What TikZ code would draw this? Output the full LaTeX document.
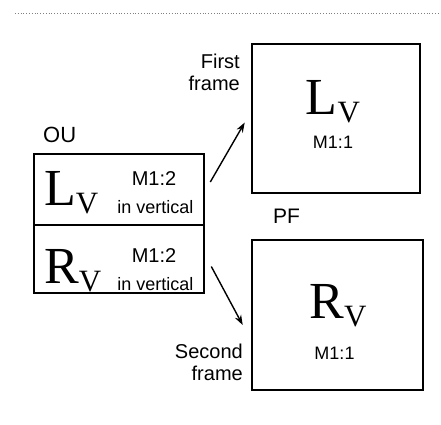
\documentclass[tikz,border=0pt]{standalone}
\usepackage{fontspec}
\setmainfont{Liberation Sans}
\newfontfamily\timesfont{Liberation Serif}
\usepackage{tikz}
\usetikzlibrary{arrows.meta, positioning, calc}
\tikzstyle{frame} = [rectangle, draw=black, line width=2.6pt, inner sep=0pt]
\tikzstyle{label} = [inner sep=0pt, anchor=base, font=\fontsize{20}{22}\selectfont]
\tikzstyle{small} = [inner sep=0pt, anchor=base, font=\fontsize{18}{20}\selectfont]
\tikzstyle{arrow} = [line width=1.4pt, -{Stealth[length=10pt,width=7pt]}]
\newcommand{\eyeV}[1]{{\timesfont\fontsize{52}{52}\selectfont #1\raisebox{-8pt}{\fontsize{31}{31}\selectfont V}}}

\begin{document}
\begin{tikzpicture}[x=1pt, y=-1pt]
        \useasboundingbox (0,0) rectangle (441,424);
        \draw [gray, dotted, line width=0.8pt] (15,13) -- (441,13);

        % OU boxes
        \node [frame, minimum width=170pt, minimum height=71pt] (ouL) at (119,189.5) {};
        \node [frame, minimum width=170pt, minimum height=68pt] (ouR) at (119,259) {};
        \node [label, anchor=base west, font=\fontsize{22}{24}\selectfont] (ou) at (43,142) {OU};
        \node [inner sep=0pt, anchor=base west] (ouLtxt) at (44,205) {\eyeV{L}};
        \node [label] (ouLm) at (154,185) {M1:2};
        \node [small] (ouLv) at (155.5,213) {in vertical};
        \node [inner sep=0pt, anchor=base west] (ouRtxt) at (44,283) {\eyeV{R}};
        \node [label] (ouRm) at (154,262) {M1:2};
        \node [small] (ouRv) at (155.5,290) {in vertical};

        % PF boxes
        \node [frame, minimum width=168pt, minimum height=149pt] (pfL) at (336,118.5) {};
        \node [frame, minimum width=171pt, minimum height=150pt] (pfR) at (337.5,315) {};
        \node [label, anchor=base west, font=\fontsize{21}{23}\selectfont] (pf) at (273,223) {PF};
        \node [inner sep=0pt, anchor=base] (pfLtxt) at (333,114) {\eyeV{L}};
        \node [small] (pfLm) at (333,148) {M1:1};
        \node [inner sep=0pt, anchor=base] (pfRtxt) at (338,318) {\eyeV{R}};
        \node [small] (pfRm) at (334.5,359) {M1:1};

        % frame labels
        \node [label, anchor=base east, align=right] (first) at (240,90) {First\\frame};
        \node [label, anchor=base east, align=right] (second) at (243,380) {Second\\frame};

        % Connect nodes
        \draw [arrow] ($(ouL.east)+(5,-7.5)$) -- ($(pfL.west)+(-6,4)$);
        \draw [arrow] ($(ouR.east)+(6,7.5)$) -- ($(pfR.west)+(-8,10)$);
    \end{tikzpicture}
\end{document}
